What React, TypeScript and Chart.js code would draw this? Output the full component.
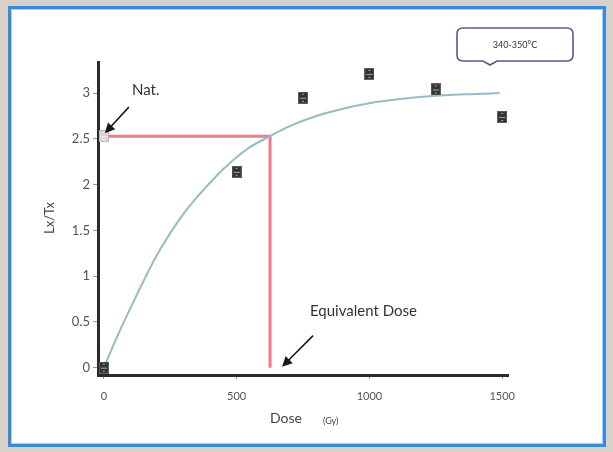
import React, { useEffect, useRef } from "react";
import { Chart, registerables } from "chart.js";

Chart.register(...registerables);

// ---- data ----
const measuredDose = [0, 0, 500, 750, 1000, 1250, 1500];
const measuredLxTx = [0, 2.53, 2.14, 2.95, 3.21, 3.04, 2.74];

const fitDose = [0, 50, 100, 150, 200, 250, 300, 350, 400, 450, 500, 550, 626, 700, 800, 900, 1000, 1100, 1200, 1300, 1400, 1490];
const fitLxTx = [0, 0.34, 0.65, 0.95, 1.23, 1.47, 1.68, 1.86, 2.02, 2.17, 2.3, 2.41, 2.53, 2.64, 2.75, 2.83, 2.89, 2.93, 2.96, 2.98, 2.99, 3.0];

const naturalLxTx = 2.53;
const equivalentDose = 626;

const xTicks = [0, 500, 1000, 1500];
const yTicks = [0, 0.5, 1, 1.5, 2, 2.5, 3];

const xLabel = "Dose";
const xUnit = "(Gy)";
const yLabel = "Lx/Tx";
const natLabel = "Nat.";
const edLabel = "Equivalent Dose";
const tempLabel = "340-350°C";

const FONT = "Lato, 'Liberation Sans', Arial, sans-serif";

function makeMarker(faint: boolean): HTMLCanvasElement {
  const m = document.createElement("canvas");
  m.width = 10;
  m.height = 12;
  const c = m.getContext("2d")!;
  c.fillStyle = faint ? "#b9b9b9" : "#5e5e5e";
  c.fillRect(0, 0, 10, 12);
  c.fillStyle = faint ? "#d9d9d9" : "#333333";
  c.fillRect(1, 1, 8, 10);
  c.fillStyle = faint ? "#eeeeee" : "#a8a8a8";
  c.fillRect(2, 6, 6, 1);
  c.fillRect(4, 2, 2, 1);
  c.fillRect(4, 9, 2, 1);
  return m;
}

function arrow(ctx: CanvasRenderingContext2D, x1: number, y1: number, x2: number, y2: number) {
  const ang = Math.atan2(y2 - y1, x2 - x1);
  const hl = 10;
  const hw = 5;
  ctx.save();
  ctx.strokeStyle = "#1a1a1a";
  ctx.fillStyle = "#1a1a1a";
  ctx.lineWidth = 1.6;
  ctx.beginPath();
  ctx.moveTo(x1, y1);
  ctx.lineTo(x2 - Math.cos(ang) * hl * 0.8, y2 - Math.sin(ang) * hl * 0.8);
  ctx.stroke();
  ctx.beginPath();
  ctx.moveTo(x2, y2);
  ctx.lineTo(x2 - Math.cos(ang) * hl + Math.sin(ang) * hw, y2 - Math.sin(ang) * hl - Math.cos(ang) * hw);
  ctx.lineTo(x2 - Math.cos(ang) * hl - Math.sin(ang) * hw, y2 - Math.sin(ang) * hl + Math.cos(ang) * hw);
  ctx.closePath();
  ctx.fill();
  ctx.restore();
}

const overlay = {
  id: "overlay",
  afterDatasetsDraw(chart: any) {
    const { ctx, scales } = chart;
    const xs = scales.x;
    const ys = scales.y;
    ctx.save();
    ctx.fillStyle = "#333";
    ctx.textBaseline = "middle";

    // y title
    ctx.save();
    ctx.translate(50, 218);
    ctx.rotate(-Math.PI / 2);
    ctx.textAlign = "center";
    ctx.font = `13px ${FONT}`;
    ctx.fillStyle = "#444";
    ctx.fillText(yLabel, 0, 0);
    ctx.restore();

    // x title
    ctx.textAlign = "left";
    ctx.font = `14px ${FONT}`;
    ctx.fillStyle = "#444";
    ctx.fillText(xLabel, 270, 418);
    ctx.font = `9px ${FONT}`;
    ctx.fillText(xUnit, 323, 421);

    // Nat annotation
    const nx = xs.getPixelForValue(0);
    const ny = ys.getPixelForValue(naturalLxTx);
    ctx.font = `15px ${FONT}`;
    ctx.fillStyle = "#333";
    ctx.fillText(natLabel, 132, 90);
    arrow(ctx, nx + 25, ny - 29, nx + 1, ny - 3);

    // Equivalent dose annotation
    const ex = xs.getPixelForValue(equivalentDose);
    const ey = ys.getPixelForValue(0);
    ctx.fillText(edLabel, 310, 311);
    arrow(ctx, ex + 43, ey - 32, ex + 12, ey - 1);

    // callout box
    const bx = 457, by = 28, bw = 116, bh = 33, r = 6;
    ctx.beginPath();
    ctx.moveTo(bx + r, by);
    ctx.lineTo(bx + bw - r, by);
    ctx.quadraticCurveTo(bx + bw, by, bx + bw, by + r);
    ctx.lineTo(bx + bw, by + bh - r);
    ctx.quadraticCurveTo(bx + bw, by + bh, bx + bw - r, by + bh);
    ctx.lineTo(bx + 40, by + bh);
    ctx.lineTo(bx + 33, by + bh + 4);
    ctx.lineTo(bx + 26, by + bh);
    ctx.lineTo(bx + r, by + bh);
    ctx.quadraticCurveTo(bx, by + bh, bx, by + bh - r);
    ctx.lineTo(bx, by + r);
    ctx.quadraticCurveTo(bx, by, bx + r, by);
    ctx.closePath();
    ctx.fillStyle = "#ffffff";
    ctx.fill();
    ctx.strokeStyle = "#565b86";
    ctx.lineWidth = 1.6;
    ctx.stroke();
    ctx.fillStyle = "#333";
    ctx.font = `9px ${FONT}`;
    ctx.textAlign = "center";
    ctx.fillText(tempLabel, bx + bw / 2, by + bh / 2 + 1);

    ctx.restore();
  },
};

export default function App() {
  const ref = useRef<HTMLCanvasElement | null>(null);

  useEffect(() => {
    if (!ref.current) return;
    const dark = makeMarker(false);
    const faint = makeMarker(true);
    const chart = new Chart(ref.current, {
      type: "scatter",
      data: {
        datasets: [
          {
            type: "line",
            label: "ED",
            data: [
              { x: 0, y: naturalLxTx },
              { x: equivalentDose, y: naturalLxTx },
              { x: equivalentDose, y: 0 },
            ],
            borderColor: "#f07a8c",
            borderWidth: 3,
            pointRadius: 0,
            tension: 0,
            order: 3,
          },
          {
            type: "line",
            label: "fit",
            data: fitDose.map((d, i) => ({ x: d, y: fitLxTx[i] })),
            borderColor: "#95bcc2",
            borderWidth: 2,
            pointRadius: 0,
            cubicInterpolationMode: "monotone",
            order: 2,
          },
          {
            type: "scatter",
            label: "data",
            data: measuredDose.map((d, i) => ({ x: d, y: measuredLxTx[i] })),
            pointStyle: measuredDose.map((_, i) => (i === 1 ? faint : dark)) as any,
            pointRadius: 5,
            order: 1,
          },
        ],
      },
      options: {
        responsive: false,
        animation: false,
        events: [],
        layout: { padding: { left: 0, top: 62, right: 105, bottom: 0 } },
        plugins: { legend: { display: false }, tooltip: { enabled: false } },
        scales: {
          x: {
            type: "linear",
            min: -22,
            max: 1522,
            afterBuildTicks: (s: any) => {
              s.ticks = xTicks.map((v) => ({ value: v }));
            },
            afterFit: (s: any) => {
              s.height = 452 - 375;
            },
            grid: { drawOnChartArea: false, drawTicks: true, tickLength: 4, color: "#999" },
            border: { display: true, color: "#2a2a2a", width: 3 },
            ticks: {
              color: "#555",
              font: { family: FONT, size: 11 },
              padding: 11,
              maxRotation: 0,
              callback: (v: any) => String(v),
            },
          },
          y: {
            type: "linear",
            min: -0.08,
            max: 3.34,
            afterBuildTicks: (s: any) => {
              s.ticks = yTicks.map((v) => ({ value: v }));
            },
            afterFit: (s: any) => {
              s.width = 98;
            },
            grid: { drawOnChartArea: false, drawTicks: true, tickLength: 5, color: "#999" },
            border: { display: true, color: "#2a2a2a", width: 3 },
            ticks: {
              color: "#555",
              font: { family: FONT, size: 13 },
              padding: 3,
              callback: (v: any) => String(v),
            },
          },
        },
      },
      plugins: [overlay],
    } as any);
    return () => chart.destroy();
  }, []);

  return (
    <div style={{ position: "fixed", left: 0, top: 0, width: 613, height: 452, background: "#d6d1ca", overflow: "hidden" }}>
      <div
        style={{
          position: "absolute",
          left: 8,
          top: 6,
          width: 598,
          height: 441,
          boxSizing: "border-box",
          border: "3px solid #3a8bd3",
          boxShadow: "inset 0 0 0 1px #a9d0f0",
          background: "#ffffff",
        }}
      />
      <canvas ref={ref} width={613} height={452} style={{ position: "absolute", left: 0, top: 0, width: 613, height: 452 }} />
    </div>
  );
}
